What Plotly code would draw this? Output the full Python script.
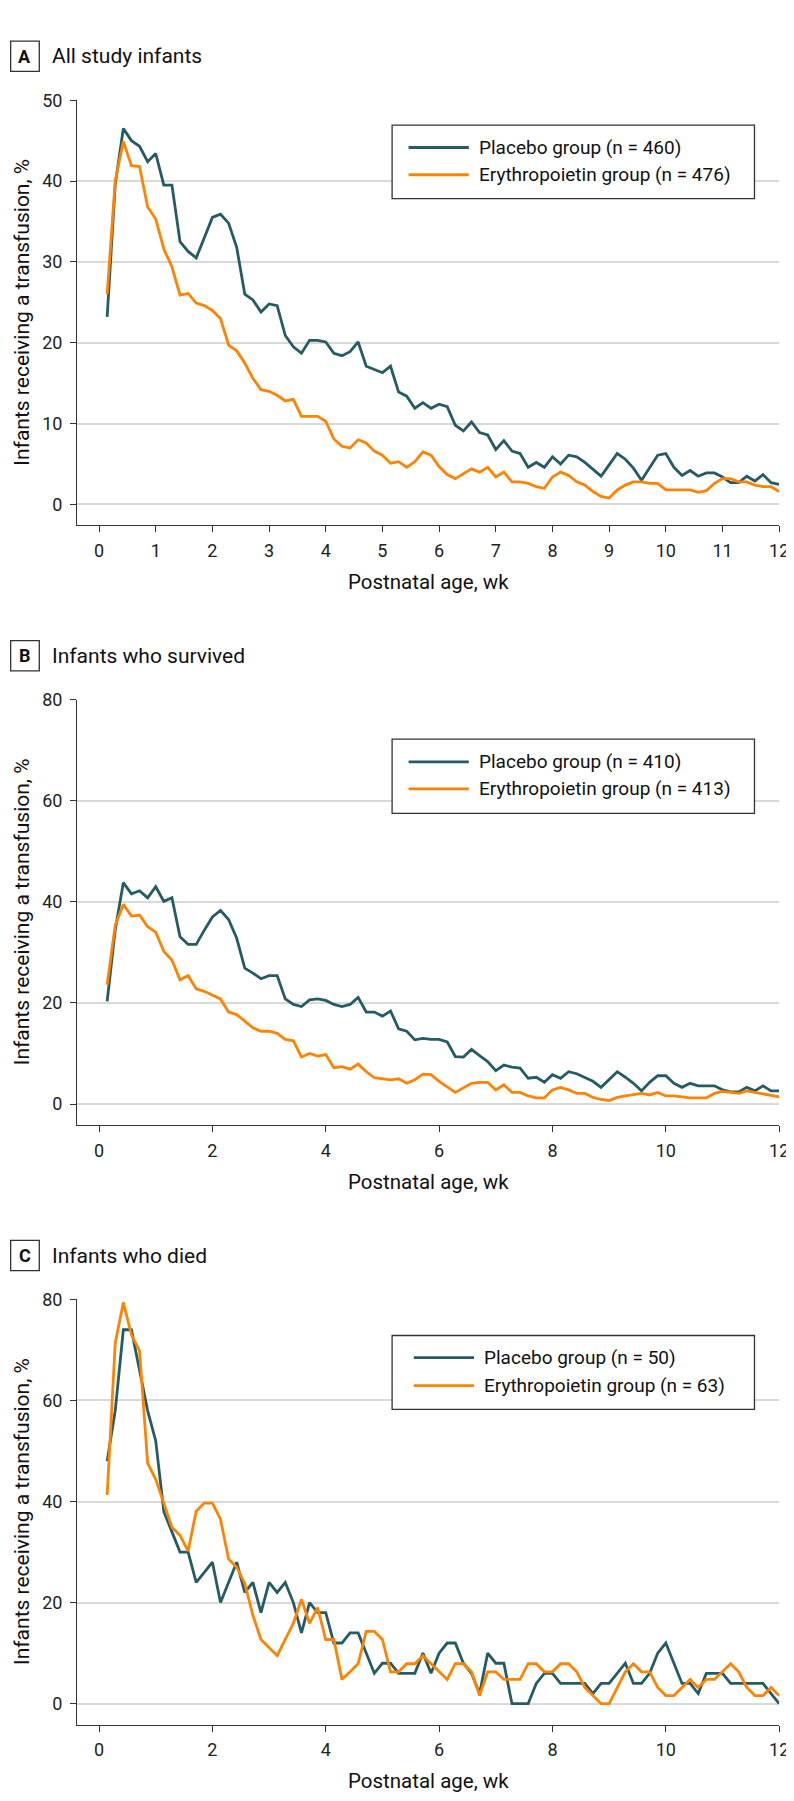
import plotly.graph_objects as go

# ---------------- data ----------------
days = list(range(1, 85))  # postnatal day 1..84

a_placebo = [23.2, 39.6, 46.5, 45.0, 44.3, 42.4, 43.4, 39.5, 39.5, 32.5, 31.3, 30.5, 33.0, 35.5,
             35.9, 34.8, 31.8, 26.0, 25.3, 23.8, 24.8, 24.6, 20.9, 19.5, 18.7, 20.3, 20.3, 20.1,
             18.7, 18.4, 18.9, 20.1, 17.1, 16.7, 16.3, 17.1, 13.9, 13.4, 11.9, 12.6, 11.9, 12.4,
             12.1, 9.8, 9.1, 10.2, 8.9, 8.6, 6.8, 7.9, 6.6, 6.3, 4.6, 5.2, 4.6, 5.9, 5.0, 6.1,
             5.9, 5.2, 4.4, 3.5, 4.9, 6.3, 5.6, 4.5, 3.0, 4.6, 6.1, 6.3, 4.6, 3.6, 4.2, 3.5,
             3.9, 3.9, 3.4, 2.7, 2.7, 3.5, 2.9, 3.7, 2.7, 2.5]
a_epo = [26.0, 40.0, 44.9, 41.9, 41.8, 36.8, 35.3, 31.6, 29.4, 25.9, 26.1, 24.9, 24.6, 24.0,
         23.0, 19.7, 19.0, 17.5, 15.6, 14.2, 14.0, 13.5, 12.8, 13.0, 10.9, 10.9, 10.9, 10.3,
         8.1, 7.2, 7.0, 8.0, 7.6, 6.6, 6.1, 5.1, 5.3, 4.6, 5.3, 6.5, 6.1, 4.7, 3.7, 3.2,
         3.8, 4.4, 4.0, 4.6, 3.4, 4.0, 2.8, 2.8, 2.6, 2.2, 2.0, 3.4, 4.0, 3.6, 2.8, 2.4,
         1.6, 1.0, 0.8, 1.8, 2.4, 2.8, 2.8, 2.6, 2.6, 1.8, 1.8, 1.8, 1.8, 1.5, 1.7, 2.6,
         3.2, 3.2, 2.8, 2.8, 2.4, 2.2, 2.2, 1.6]

b_placebo = [20.3, 34.5, 43.8, 41.6, 42.2, 40.8, 43.0, 40.1, 40.8, 33.1, 31.6, 31.6, 34.4, 37.0,
             38.3, 36.5, 32.8, 26.9, 25.9, 24.8, 25.4, 25.4, 20.8, 19.7, 19.3, 20.6, 20.8, 20.5,
             19.7, 19.3, 19.7, 21.1, 18.2, 18.2, 17.4, 18.4, 14.9, 14.4, 12.7, 13.0, 12.8, 12.8,
             12.3, 9.4, 9.3, 10.8, 9.6, 8.4, 6.6, 7.7, 7.3, 7.1, 5.1, 5.3, 4.3, 5.8, 5.1, 6.4,
             6.0, 5.3, 4.5, 3.3, 4.9, 6.4, 5.3, 4.1, 2.6, 4.3, 5.6, 5.6, 4.1, 3.3, 4.1, 3.6,
             3.6, 3.6, 2.8, 2.4, 2.4, 3.3, 2.6, 3.6, 2.6, 2.6]
b_epo = [23.6, 35.4, 39.5, 37.2, 37.4, 35.1, 34.0, 30.2, 28.5, 24.6, 25.4, 22.8, 22.3, 21.6,
         20.8, 18.2, 17.7, 16.4, 15.1, 14.4, 14.4, 14.0, 12.8, 12.5, 9.3, 10.0, 9.5, 9.8,
         7.2, 7.4, 6.9, 7.9, 6.4, 5.2, 5.0, 4.8, 5.0, 4.1, 4.8, 5.9, 5.8, 4.5, 3.4, 2.3,
         3.2, 4.1, 4.3, 4.3, 2.8, 3.8, 2.3, 2.3, 1.6, 1.2, 1.2, 2.8, 3.3, 2.8, 2.1, 2.1,
         1.3, 0.9, 0.7, 1.3, 1.6, 1.8, 2.1, 1.8, 2.3, 1.6, 1.6, 1.4, 1.2, 1.2, 1.2, 2.1,
         2.5, 2.3, 2.1, 2.6, 2.3, 2.0, 1.8, 1.4]

c_placebo = [48, 58, 74, 74, 66, 58, 52, 38, 34, 30, 30, 24, 26, 28, 20, 24, 28, 22, 24, 18, 24,
             22, 24, 20, 14, 20, 18, 18, 12, 12, 14, 14, 10, 6, 8, 8, 6, 6, 6, 10, 6, 10,
             12, 12, 8, 6, 2, 10, 8, 8, 0, 0, 0, 4, 6, 6, 4, 4, 4, 4, 2, 4, 4,
             6, 8, 4, 4, 6, 10, 12, 8, 4, 4, 2, 6, 6, 6, 4, 4, 4, 4, 4, 2, 0]
c_epo = [41.3, 71.4, 79.4, 73.0, 69.8, 47.6, 44.4, 39.7, 34.9, 33.3, 30.2, 38.1, 39.7, 39.7,
         36.5, 28.6, 27.0, 23.8, 17.5, 12.7, 11.1, 9.5, 12.7, 15.9, 20.6, 15.9, 19.0, 12.7,
         12.7, 4.8, 6.3, 7.9, 14.3, 14.3, 12.7, 6.3, 6.3, 7.9, 7.9, 9.5, 7.9, 6.3, 4.8, 7.9,
         7.9, 6.3, 1.6, 6.3, 6.3, 4.8, 4.8, 4.8, 7.9, 7.9, 6.3, 6.3, 7.9, 7.9, 6.3, 3.2,
         1.6, 0, 0, 3.2, 6.3, 7.9, 6.3, 6.3, 3.2, 1.6, 1.6, 3.2, 4.8, 3.2, 4.8, 4.8,
         6.3, 7.9, 6.3, 3.2, 1.6, 1.6, 3.2, 1.6]

panel_letters = ["A", "B", "C"]
panel_titles = ["All study infants", "Infants who survived", "Infants who died"]
placebo_n = [460, 410, 50]
epo_n = [476, 413, 63]
y_max = [50, 80, 80]
y_dtick = [10, 20, 20]
x_dtick = [1, 2, 2]
x_title = "Postnatal age, wk"
y_title = "Infants receiving a transfusion, %"

# ---------------- layout geometry (pixels) ----------------
W, H = 794, 1801
FONT = "Roboto, Lato, Arial, sans-serif"
TEAL = "#245b65"
ORANGE = "#ff8300"
AXIS = "#333333"
GRID = "#d9d9d9"

X_LEFT, X_RIGHT = 70, 781
X_RANGE = [-0.387, 12]
plot_tops = [81.7, 684.9, 1288.3]
plot_bottoms = [509.3, 1112.7, 1716.0]
y_mins = [-2.56, -4.13, -4.13]
legend_boxes = [(389, 106.7, 756, 180.7), (389, 724.6, 756, 799.3), (389, 1324.6, 756, 1398.9)]
legend_rows = [(129.3, 156.7), (747.5, 774.6), (1346.8, 1375.0)]
legend_x = [(405.7, 466.7, 475), (405.7, 466.7, 475), (411, 472, 480)]


def fx(p):
    return p / W


def fy(p):
    return 1 - p / H


series = [(a_placebo, a_epo), (b_placebo, b_epo), (c_placebo, c_epo)]
weeks = [d / 7 for d in days]

fig = go.Figure()
shapes = []
annotations = []

for i in range(3):
    suffix = "" if i == 0 else str(i + 1)
    xa, ya = "x" + suffix, "y" + suffix
    plac, epo = series[i]
    fig.add_trace(go.Scatter(x=weeks, y=plac, mode="lines", name=f"Placebo group (n = {placebo_n[i]})",
                             line=dict(color=TEAL, width=2.8), xaxis=xa, yaxis=ya, showlegend=False))
    fig.add_trace(go.Scatter(x=weeks, y=epo, mode="lines", name=f"Erythropoietin group (n = {epo_n[i]})",
                             line=dict(color=ORANGE, width=2.8), xaxis=xa, yaxis=ya, showlegend=False))

    top, bot = plot_tops[i], plot_bottoms[i]
    fig.update_layout(**{
        "xaxis" + suffix: dict(
            domain=[fx(X_LEFT), fx(X_RIGHT)], range=X_RANGE, anchor=ya,
            tickvals=list(range(0, 13, x_dtick[i])), ticks="outside", ticklen=6, tickwidth=1.3,
            tickcolor=AXIS, showline=True, linecolor=AXIS, linewidth=1.3, showgrid=False,
            zeroline=False, tickfont=dict(family=FONT, size=18, color="#222"),
            ticklabelstandoff=3,
        ),
        "yaxis" + suffix: dict(
            domain=[fy(bot), fy(top)], range=[y_mins[i], y_max[i]], anchor=xa,
            tickvals=list(range(0, y_max[i] + 1, y_dtick[i])), ticks="outside", ticklen=6,
            tickwidth=1.3, tickcolor=AXIS, showline=True, linecolor=AXIS, linewidth=1.3,
            showgrid=True, gridcolor=GRID, gridwidth=1.5, zeroline=False,
            tickfont=dict(family=FONT, size=18, color="#222"), ticklabelstandoff=4,
        ),
    })

    # panel letter box + title
    shapes.append(dict(type="rect", xref="paper", yref="paper", x0=fx(2.7), x1=fx(31.7),
                       y0=fy(top - 29), y1=fy(top - 59.4), line=dict(color=AXIS, width=1.3)))
    annotations.append(dict(xref="paper", yref="paper", x=fx(17.2), y=fy(top - 44.2),
                            text=f"<b>{panel_letters[i]}</b>", showarrow=False, xanchor="center",
                            yanchor="middle", font=dict(family=FONT, size=18, color="#111")))
    annotations.append(dict(xref="paper", yref="paper", x=fx(43), y=fy(top - 44),
                            text=panel_titles[i], showarrow=False, xanchor="left", yanchor="middle",
                            font=dict(family=FONT, size=21, color="#111")))
    # axis titles
    annotations.append(dict(xref="paper", yref="paper", x=fx((X_LEFT + X_RIGHT) / 2), y=fy(bot + 57),
                            text=x_title, showarrow=False, xanchor="center", yanchor="middle",
                            font=dict(family=FONT, size=20.5, color="#111")))
    annotations.append(dict(xref="paper", yref="paper", x=fx(14.2), y=fy((top + bot) / 2),
                            text=y_title, showarrow=False, textangle=-90, xanchor="center",
                            yanchor="middle", font=dict(family=FONT, size=21, color="#111")))
    # legend
    bx0, by0, bx1, by1 = legend_boxes[i]
    shapes.append(dict(type="rect", xref="paper", yref="paper", x0=fx(bx0), x1=fx(bx1),
                       y0=fy(by0), y1=fy(by1), line=dict(color=AXIS, width=1.3),
                       fillcolor="white", layer="above"))
    lx0, lx1, tx = legend_x[i]
    for row_y, col, label in zip(legend_rows[i], (TEAL, ORANGE),
                                 (f"Placebo group (n = {placebo_n[i]})",
                                  f"Erythropoietin group (n = {epo_n[i]})")):
        shapes.append(dict(type="line", xref="paper", yref="paper", x0=fx(lx0), x1=fx(lx1),
                           y0=fy(row_y), y1=fy(row_y), line=dict(color=col, width=2.8), layer="above"))
        annotations.append(dict(xref="paper", yref="paper", x=fx(tx), y=fy(row_y), text=label,
                                showarrow=False, xanchor="left", yanchor="middle",
                                font=dict(family=FONT, size=19, color="#111")))

fig.update_layout(width=W, height=H, margin=dict(l=0, r=0, t=0, b=0),
                  paper_bgcolor="white", plot_bgcolor="white", shapes=shapes,
                  annotations=annotations, showlegend=False, font=dict(family=FONT))

fig.write_html("out.html")
